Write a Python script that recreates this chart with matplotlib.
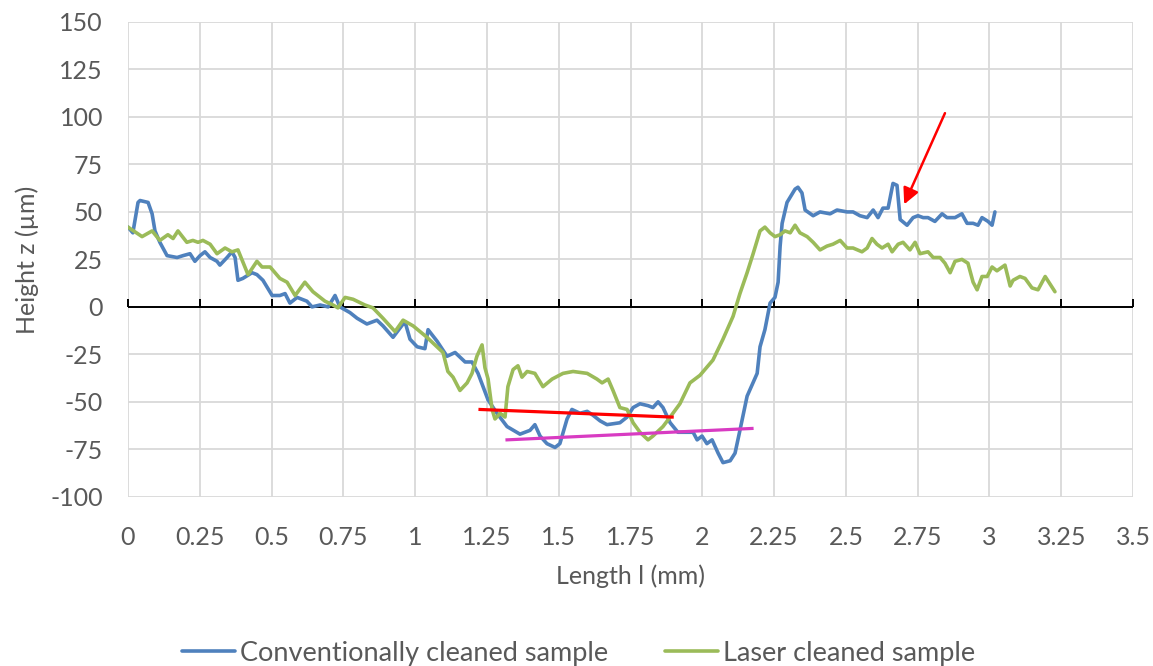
import matplotlib
matplotlib.use("Agg")
import matplotlib.pyplot as plt

plt.rcParams['font.family'] = ['Lato', 'DejaVu Sans']
plt.rcParams['axes.unicode_minus'] = False

# --- profile data (length in mm, height in um) --------------------------------
conv_x = [0.000, 0.017, 0.035, 0.042, 0.070, 0.084, 0.094, 0.111, 0.136, 0.171,
          0.192, 0.216, 0.233, 0.251, 0.268, 0.286, 0.310, 0.320, 0.345, 0.362,
          0.373, 0.383, 0.400, 0.432, 0.449, 0.470, 0.502, 0.529, 0.547, 0.564,
          0.589, 0.623, 0.641, 0.669, 0.697, 0.721, 0.738, 0.773, 0.798, 0.832,
          0.867, 0.888, 0.923, 0.958, 0.965, 0.982, 1.007, 1.034, 1.045, 1.076,
          1.111, 1.139, 1.174, 1.198, 1.219, 1.254, 1.285, 1.320, 1.365, 1.400,
          1.417, 1.435, 1.459, 1.487, 1.504, 1.529, 1.546, 1.574, 1.599, 1.619,
          1.644, 1.668, 1.713, 1.738, 1.759, 1.783, 1.811, 1.828, 1.846, 1.863,
          1.888, 1.915, 1.968, 1.982, 1.999, 2.016, 2.034, 2.055, 2.072, 2.097,
          2.114, 2.131, 2.156, 2.191, 2.201, 2.218, 2.236, 2.253, 2.264, 2.271,
          2.278, 2.295, 2.323, 2.333, 2.347, 2.358, 2.386, 2.410, 2.445, 2.469,
          2.504, 2.525, 2.549, 2.574, 2.595, 2.612, 2.629, 2.647, 2.664, 2.678,
          2.689, 2.713, 2.734, 2.751, 2.769, 2.786, 2.810, 2.835, 2.852, 2.880,
          2.904, 2.922, 2.943, 2.960, 2.974, 2.995, 3.009, 3.019]
conv_z = [42, 39, 55, 56, 55, 49, 40, 34, 27, 26,
          27, 28, 24, 27, 29, 26, 24, 22, 26, 29,
          26, 14, 15, 18, 17, 14, 6, 6, 7, 2,
          5, 3, 0, 1, 0, 6, 0, -3, -6, -9,
          -7, -10, -16, -9, -8, -17, -21, -22, -12, -18,
          -26, -24, -29, -29, -35, -49, -56, -63, -67, -65,
          -62, -68, -72, -74, -72, -59, -54, -56, -55, -57,
          -60, -62, -61, -58, -53, -51, -52, -53, -50, -53,
          -61, -66, -66, -70, -68, -72, -70, -77, -82, -81,
          -77, -65, -47, -35, -21, -12, 2, 5, 13, 32,
          44, 55, 62, 63, 60, 51, 48, 50, 49, 51,
          50, 50, 48, 47, 51, 47, 52, 52, 65, 64,
          46, 43, 47, 48, 47, 47, 45, 49, 47, 47,
          49, 44, 44, 43, 47, 45, 43, 50]

laser_x = [0.000, 0.049, 0.084, 0.111, 0.139, 0.157, 0.174, 0.205, 0.226, 0.244,
           0.261, 0.286, 0.310, 0.338, 0.362, 0.383, 0.418, 0.449, 0.467, 0.495,
           0.529, 0.554, 0.582, 0.616, 0.644, 0.686, 0.714, 0.731, 0.756, 0.784,
           0.825, 0.853, 0.888, 0.930, 0.958, 0.993, 1.041, 1.062, 1.097, 1.114,
           1.132, 1.156, 1.181, 1.198, 1.215, 1.233, 1.243, 1.254, 1.268, 1.278,
           1.296, 1.313, 1.323, 1.341, 1.358, 1.372, 1.390, 1.417, 1.445, 1.477,
           1.515, 1.550, 1.599, 1.633, 1.651, 1.672, 1.689, 1.713, 1.738, 1.759,
           1.783, 1.811, 1.828, 1.863, 1.888, 1.922, 1.957, 1.992, 2.037, 2.072,
           2.107, 2.131, 2.156, 2.177, 2.201, 2.218, 2.236, 2.253, 2.271, 2.288,
           2.306, 2.323, 2.340, 2.365, 2.386, 2.410, 2.434, 2.455, 2.480, 2.504,
           2.525, 2.556, 2.574, 2.591, 2.608, 2.626, 2.647, 2.661, 2.682, 2.699,
           2.723, 2.741, 2.758, 2.786, 2.804, 2.828, 2.845, 2.863, 2.880, 2.904,
           2.925, 2.943, 2.957, 2.974, 2.992, 3.009, 3.026, 3.054, 3.072, 3.082,
           3.106, 3.124, 3.148, 3.169, 3.194, 3.211, 3.228]
laser_z = [42, 37, 40, 35, 38, 36, 40, 34, 35, 34,
           35, 33, 28, 31, 29, 30, 17, 24, 21, 21,
           15, 13, 6, 13, 8, 3, 1, -0.5, 5, 4,
           1, -0.5, -6, -13, -7, -10, -16, -19, -24, -34,
           -37, -44, -40, -35, -26, -20, -32, -38, -54, -59,
           -56, -58, -42, -33, -31, -37, -34, -35, -42, -38,
           -35, -34, -35, -38, -40, -38, -44, -53, -54, -61,
           -66, -70, -68, -63, -58, -51, -40, -36, -28, -17,
           -5, 7, 18, 28, 40, 42, 39, 37, 38, 40,
           39, 43, 39, 37, 34, 30, 32, 33, 35, 31,
           31, 29, 31, 36, 33, 31, 33, 29, 33, 34,
           30, 34, 28, 29, 26, 26, 23, 18, 24, 25,
           23, 13, 9, 16, 16, 21, 19, 22, 11, 14,
           16, 15, 10, 9, 16, 12, 8]

# reference lines through the trough bottoms
red_x = [1.226, 1.895]
red_z = [-54, -58]
pink_x = [1.320, 2.173]
pink_z = [-70, -64]

# arrow pointing at the step after the spike
arrow_tail = (2.845, 102)
arrow_tip = (2.703, 54)

x_ticks = [0, 0.25, 0.5, 0.75, 1, 1.25, 1.5, 1.75, 2, 2.25, 2.5, 2.75, 3, 3.25, 3.5]
x_labels = ['0', '0.25', '0.5', '0.75', '1', '1.25', '1.5', '1.75', '2', '2.25',
            '2.5', '2.75', '3', '3.25', '3.5']
y_ticks = [-100, -75, -50, -25, 0, 25, 50, 75, 100, 125, 150]

# -----------------------------------------------------------------------------

BLUE = '#4F81BD'
GREEN = '#9BBB59'
TEXT = '#595959'

fig = plt.figure(figsize=(11.53, 6.66), dpi=100)
ax = fig.add_axes([0.111, 0.254, 0.8717, 0.713])

# zero line with small upward tick marks at every major x tick
ax.axhline(0, color='black', lw=1.4, zorder=2)
ax.plot(x_ticks, [0] * len(x_ticks), linestyle='none', marker=2, markersize=6,
        markeredgewidth=1.4, color='black', clip_on=False, zorder=2)

ax.plot(conv_x, conv_z, color=BLUE, lw=2.6, label='Conventionally cleaned sample',
        solid_joinstyle='round', solid_capstyle='round', zorder=3)
ax.plot(laser_x, laser_z, color=GREEN, lw=2.6, label='Laser cleaned sample',
        solid_joinstyle='round', solid_capstyle='round', zorder=3)
ax.plot(red_x, red_z, color='#FF0000', lw=2.3, zorder=4)
ax.plot(pink_x, pink_z, color='#D83BC2', lw=2.3, zorder=4)
ax.annotate('', xy=arrow_tip, xytext=arrow_tail,
            arrowprops=dict(arrowstyle='-|>', color='#FF0000', lw=1.8,
                            mutation_scale=24, shrinkA=0, shrinkB=0), zorder=5)

ax.set_xlim(0, 3.5)
ax.set_ylim(-100, 150)
ax.set_xticks(x_ticks)
ax.set_xticklabels(x_labels)
ax.set_yticks(y_ticks)

for s in ax.spines.values():
    s.set_visible(False)
ax.set_axisbelow(True)
ax.grid(True, color='#D9D9D9', lw=1.3)
ax.tick_params(length=0, labelsize=18, labelcolor=TEXT)
ax.tick_params(axis='x', pad=21)
ax.tick_params(axis='y', pad=18)

ax.set_xlabel('Length l (mm)', fontsize=18, color=TEXT, labelpad=11)
ax.set_ylabel('Height z (µm)', fontsize=18, color=TEXT, labelpad=8)

handles = ax.get_lines()[2:4]
fig.legend(handles=handles, loc='center', bbox_to_anchor=(0.502, 0.019), ncol=2,
           frameon=False, fontsize=19.5, labelcolor=TEXT, handlelength=1.95,
           handletextpad=0.2, columnspacing=2.1)

fig.savefig('out.png', dpi=100)
